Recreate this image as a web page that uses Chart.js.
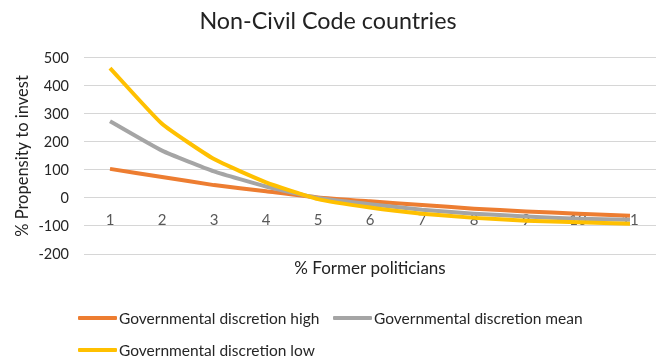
<!DOCTYPE html>
<html>
<head>
<meta charset="utf-8">
<script src="https://cdn.jsdelivr.net/npm/chart.js@4/dist/chart.umd.min.js"></script>
<style>
  html, body { margin: 0; padding: 0; background: #ffffff; }
  #wrap { position: relative; width: 661px; height: 356px; overflow: hidden; }
  #chart { position: absolute; left: 0; top: 0; }
  #legend {
    position: absolute; left: 78px; top: 302px;
    display: grid; grid-template-columns: 255px auto; grid-auto-rows: 32px;
    font-family: Lato, "Liberation Sans", sans-serif; font-size: 15.5px; color: #262626;
  }
  .item { display: flex; align-items: center; white-space: nowrap; }
  .swatch { width: 39px; height: 4px; margin-right: 2px; border-radius: 1px; }
</style>
</head>
<body>
<div id="wrap">
  <canvas id="chart" width="661" height="356"></canvas>
  <div id="legend"></div>
</div>
<script>
// Share of former politicians (x) and propensity to invest (y), by level of governmental discretion
const categories = ['1', '2', '3', '4', '5', '6', '7', '8', '9', '10', '11'];
const seriesNames = [
  'Governmental discretion high',
  'Governmental discretion mean',
  'Governmental discretion low'
];
const discretionHigh = [104, 75, 46, 24, 2, -12, -25, -38, -48, -56, -63];
const discretionMean = [274, 169, 95, 41, 0, -22, -42, -56, -66, -74, -78];
const discretionLow  = [464, 265, 139, 56, -4, -34, -56, -71, -81, -87, -92];
const yTicks = { min: -200, max: 500, step: 100 };

const seriesColors = ['#ED7D31', '#A5A5A5', '#FFC000'];
const seriesValues = [discretionHigh, discretionMean, discretionLow];
const FONT = 'Lato';

const datasets = seriesValues.map((vals, i) => ({
  label: seriesNames[i],
  data: vals,
  borderColor: seriesColors[i],
  backgroundColor: seriesColors[i],
  borderWidth: 4,
  pointRadius: 0,
  pointHoverRadius: 0,
  tension: 0.15,
  fill: false,
  order: seriesValues.length - i   // later series drawn on top
}));

new Chart(document.getElementById('chart'), {
  type: 'line',
  data: { labels: categories, datasets },
  options: {
    responsive: false,
    animation: false,
    events: [],
    layout: { padding: { left: 0, right: 5, top: 0, bottom: 77 } },
    plugins: {
      legend: { display: false },
      tooltip: { enabled: false },
      title: {
        display: true,
        text: 'Non-Civil Code countries',
        color: '#222222',
        font: { family: FONT, size: 23.3, weight: 'normal' },
        padding: { top: 7, bottom: 23 }
      }
    },
    scales: {
      x: {
        type: 'category',
        offset: true,
        grid: { display: false, drawTicks: false },
        border: { display: false },
        ticks: {
          // labels sit just under the zero line, inside the plot area
          mirror: true,
          color: '#595959',
          font: { family: FONT, size: 15 },
          padding: 25,
          maxRotation: 0,
          autoSkip: false
        },
        title: {
          display: true,
          text: '% Former politicians',
          color: '#222222',
          font: { family: FONT, size: 17 },
          padding: { top: 0, bottom: 0 }
        },
        afterFit(scale) {
          scale.height = 25;
          scale.paddingLeft = 0;
          scale.paddingRight = 0;
        }
      },
      y: {
        min: yTicks.min,
        max: yTicks.max,
        grid: { color: '#d6d6d6', lineWidth: 1, drawTicks: false },
        border: { display: false },
        ticks: {
          stepSize: yTicks.step,
          color: '#262626',
          font: { family: FONT, size: 14.5 },
          padding: 15
        },
        title: {
          display: true,
          text: '% Propensity to invest',
          color: '#222222',
          font: { family: FONT, size: 16.5 },
          padding: { top: 13, bottom: 0 }
        },
        afterFit(scale) { scale.width = 84; }
      }
    }
  }
});

// Legend built from the same series names and colours
const legendEl = document.getElementById('legend');
seriesNames.forEach((name, i) => {
  const item = document.createElement('div');
  item.className = 'item';
  const sw = document.createElement('span');
  sw.className = 'swatch';
  sw.style.background = seriesColors[i];
  const txt = document.createElement('span');
  txt.textContent = name;
  item.appendChild(sw);
  item.appendChild(txt);
  legendEl.appendChild(item);
});
</script>
</body>
</html>
